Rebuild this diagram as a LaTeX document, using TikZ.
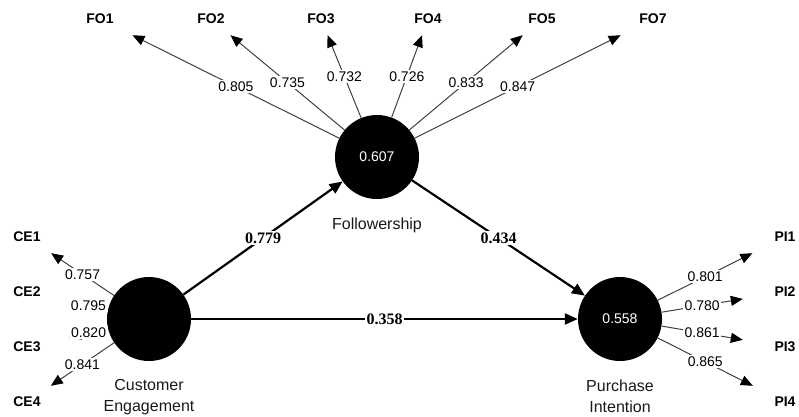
\documentclass[tikz,border=0pt]{standalone}
\usepackage{fontspec}
\setmainfont{Liberation Sans}
\newfontfamily\coeffont{Liberation Serif}
\usetikzlibrary{positioning,arrows.meta}

\begin{document}
\begin{tikzpicture}[x=1pt,y=-1pt,
  latent/.style={circle,fill=black,minimum size=84pt,inner sep=0pt,text=white,font=\fontsize{14}{16}\selectfont},
  latentname/.style={align=center,text=black!90,font=\fontsize{16}{21}\selectfont},
  indicator/.style={rectangle,minimum width=84pt,minimum height=32pt,inner sep=0pt,font=\bfseries\fontsize{14}{16}\selectfont},
  loadarrow/.style={-{Triangle[length=12pt,width=10pt,black]},line width=1pt,draw=black!75},
  patharrow/.style={-{Triangle[length=13pt,width=11pt]},line width=2.2pt},
  loading/.style={fill=white,inner sep=1.5pt,font=\fontsize{14}{16}\selectfont},
  coef/.style={fill=white,inner sep=1.5pt,font=\coeffont\bfseries\fontsize{16}{18}\selectfont}]
\useasboundingbox (0,0) rectangle (799,416);

% latent variables
\node[latent] (FO) at (377,157) {0.607};
\node[latent] (CE) at (149,319) {};
\node[latent] (PI) at (620,319) {0.558};
\node[latentname,below=15pt of FO] (FOname) {Followership};
\node[latentname,below=15pt of CE] (CEname) {Customer\\Engagement};
\node[latentname,below=15pt of PI] (PIname) {Purchase\\Intention};

% indicators
\foreach \i/\x in {1/100,2/211,3/321,4/428,5/542,7/653}
  \node[indicator] (FO\i) at (\x,19) {FO\i};
\foreach \i/\y in {1/237,2/292,3/347,4/402}{
  \node[indicator] (CE\i) at (27,\y) {CE\i};
  \node[indicator] (PI\i) at (785,\y) {PI\i};
}

% outer loadings
\foreach \i/\v in {1/0.805,2/0.735,3/0.732,4/0.726,5/0.833,7/0.847}
  \draw[loadarrow] (FO) -- (FO\i) node[loading,midway] {\v};
\foreach \i/\v in {1/0.757,2/0.795,3/0.820,4/0.841}
  \draw[loadarrow] (CE) -- (CE\i) node[loading,midway] {\v};
\foreach \i/\v in {1/0.801,2/0.780,3/0.861,4/0.865}
  \draw[loadarrow] (PI) -- (PI\i) node[loading,midway] {\v};

% path coefficients
\draw[patharrow] (CE) -- (FO) node[coef,midway] {0.779};
\draw[patharrow] (FO) -- (PI) node[coef,midway] {0.434};
\draw[patharrow] (CE) -- (PI) node[coef,midway] {0.358};
\end{tikzpicture}
\end{document}
